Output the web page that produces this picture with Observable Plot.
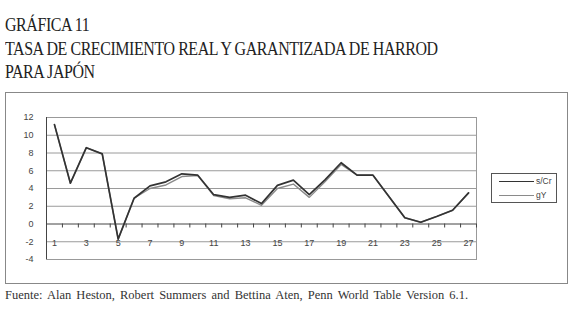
<!DOCTYPE html>
<html>
<head>
<meta charset="utf-8">
<script src="https://cdn.jsdelivr.net/npm/d3@7"></script>
<script src="https://cdn.jsdelivr.net/npm/@observablehq/plot@0.6"></script>
<style>
  html, body { margin: 0; padding: 0; background: #fff; width: 575px; height: 323px; overflow: hidden; }
  #title { position: absolute; left: 5px; top: 13px; font-family: "Liberation Serif", "DejaVu Serif", serif; font-size: 19px; line-height: 23.5px; color: #222; letter-spacing: -0.5px; transform: scaleX(0.84); transform-origin: left top; white-space: nowrap; }
  #frame { position: absolute; left: 5px; top: 92px; width: 561px; height: 190px; border: 1px solid #888; }
  #chart { position: absolute; left: 0; top: 0; }
  #legend { position: absolute; left: 491px; top: 173px; width: 64px; height: 28px; border: 1px solid #555; background: #fff; font-family: Arial, "Liberation Sans", sans-serif; font-size: 8.5px; color: #444; }
  .lrow { position: absolute; left: 0; height: 12px; display: flex; align-items: center; }
  .lrow span.ln { display: inline-block; width: 35px; margin-left: 7px; margin-right: 2px; }
  #footer { position: absolute; left: 5px; top: 288px; font-family: "Liberation Serif", "DejaVu Serif", serif; font-size: 12.5px; color: #333; word-spacing: 2px; }
</style>
</head>
<body>
<div id="title">GRÁFICA 11<br>TASA DE CRECIMIENTO REAL Y GARANTIZADA DE HARROD<br>PARA JAPÓN</div>
<div id="frame"><div id="chart"></div></div>
<div id="legend"></div>
<div id="footer">Fuente: Alan Heston, Robert Summers and Bettina Aten, Penn World Table Version 6.1.</div>
<script>
// Data
const periods = [1,2,3,4,5,6,7,8,9,10,11,12,13,14,15,16,17,18,19,20,21,22,23,24,25,26,27];
const sCr = [11.2,4.6,8.6,7.9,-1.7,2.9,4.3,4.75,5.65,5.5,3.3,3.0,3.25,2.3,4.35,4.95,3.3,5.0,6.9,5.5,5.5,3.1,0.7,0.2,0.85,1.55,3.5];
const gY  = [11.2,4.6,8.6,7.9,-1.7,2.9,4.0,4.4,5.35,5.45,3.2,2.85,2.95,2.1,4.0,4.5,3.0,4.8,6.7,5.5,5.5,3.1,0.7,0.2,0.85,1.55,3.5];
const seriesNames = ["s/Cr", "gY"];
const seriesColors = ["#333333", "#8a8a8a"];
const yTicks = [-4,-2,0,2,4,6,8,10,12];
const gridValues = [-2,2,4,6,8,10,12];
const xLabels = [1,3,5,7,9,11,13,15,17,19,21,23,25,27];

const rows = [];
periods.forEach((p, i) => {
  rows.push({period: p, value: sCr[i], series: seriesNames[0]});
  rows.push({period: p, value: gY[i], series: seriesNames[1]});
});

const font = "Arial, 'Liberation Sans', sans-serif";
const chart = Plot.plot({
  width: 561,
  height: 190,
  marginLeft: 40,
  marginTop: 24,
  marginRight: 91,
  marginBottom: 24,
  style: {fontFamily: font, fontSize: "9px", color: "#444", background: "transparent"},
  x: {domain: [0.5, 27.5], axis: null},
  y: {domain: [-4, 12], axis: null},
  color: {domain: seriesNames, range: seriesColors},
  marks: [
    Plot.ruleY(gridValues, {stroke: "#9a9a9a", strokeWidth: 1}),
    Plot.frame({stroke: "#999"}),
    Plot.ruleX([0.5], {stroke: "#444"}),
    Plot.ruleY([0], {stroke: "#444"}),
    Plot.ruleX(periods.map(p => p + 0.5), {x: d => d, y1: 0, y2: -0.45, stroke: "#444"}),
    Plot.text(yTicks, {x: 0.5, y: d => d, text: d => String(d), textAnchor: "end", dx: -13, fill: "#444"}),
    Plot.text(xLabels, {x: d => d, y: 0, text: d => String(d), dy: 19, fill: "#444"}),
    Plot.line(rows.filter(r => r.series === "gY"), {x: "period", y: "value", stroke: "series", strokeWidth: 1.4}),
    Plot.line(rows.filter(r => r.series === "s/Cr"), {x: "period", y: "value", stroke: "series", strokeWidth: 1.7})
  ]
});
document.getElementById("chart").appendChild(chart);

// Legend
const legend = document.getElementById("legend");
seriesNames.forEach((name, i) => {
  const row = document.createElement("div");
  row.className = "lrow";
  row.style.top = (i === 0 ? 1 : 15) + "px";
  const ln = document.createElement("span");
  ln.className = "ln";
  ln.style.borderTop = (i === 0 ? "1.7px" : "1.4px") + " solid " + seriesColors[i];
  row.appendChild(ln);
  const t = document.createElement("span");
  t.textContent = name;
  row.appendChild(t);
  legend.appendChild(row);
});
</script>
</body>
</html>
